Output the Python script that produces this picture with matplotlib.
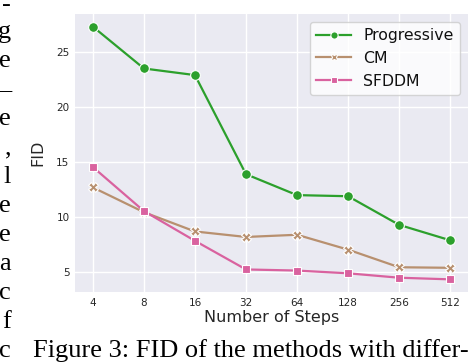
import matplotlib
matplotlib.use("Agg")
import matplotlib.pyplot as plt
import numpy as np

steps = ["4", "8", "16", "32", "64", "128", "256", "512"]
progressive = [27.3, 23.5, 22.9, 13.9, 12.0, 11.9, 9.3, 7.9]
cm = [12.7, 10.45, 8.7, 8.2, 8.4, 7.05, 5.45, 5.4]
sfddm = [14.55, 10.55, 7.85, 5.25, 5.15, 4.9, 4.5, 4.35]
series_names = ["Progressive", "CM", "SFDDM"]
y_ticks = [5, 10, 15, 20, 25]

colors = ["#2ca02c", "#b8906f", "#d9629f"]
markers = ["o", "X", "s"]
msizes = [7, 6.5, 5.5]

fig = plt.figure(figsize=(4.76, 3.64), dpi=100)
ax = fig.add_axes([75/476, 1-292/364, (468-75)/476, (292-14)/364])
ax.set_facecolor("#eaeaf2")
for s in ax.spines.values():
    s.set_visible(False)
ax.grid(True, color="white", linewidth=1.0)
ax.set_axisbelow(True)

x = np.arange(len(steps))
for name, vals, c, m, ms in zip(series_names, [progressive, cm, sfddm], colors, markers, msizes):
    ax.plot(x, vals, color=c, marker=m, markersize=ms, markeredgecolor="white",
            markeredgewidth=0.8, linewidth=1.6, label=name)

ax.set_xticks(x)
ax.set_xticklabels(steps)
ax.set_yticks(y_ticks)
ax.tick_params(axis="both", length=0, labelsize=7.5, pad=4, labelcolor="#262626")
ax.margins(x=0.05, y=0.05)
ax.set_xlabel("Number of Steps", fontsize=11.5, color="#262626", labelpad=2)
ax.set_ylabel("FID", fontsize=11.5, color="#262626", labelpad=8)

leg = ax.legend(loc="upper right", fontsize=11.3, frameon=True, fancybox=True,
                framealpha=0.8, edgecolor="#cccccc", borderpad=0.4, labelspacing=0.5,
                handlelength=2.2, handletextpad=0.8, markerscale=0.75)
for t in leg.get_texts():
    t.set_color("#111111")

# surrounding paper text (cropped column on the left and caption below)
left_chars = ["-", "g", "e", "–", "e", ",", "l", "e", "e", "a", "c", "f", "c"]
y_base = [11, 38, 67, 96, 125, 154, 183, 212, 241, 270, 299, 328, 357]
for ch, yb in zip(left_chars, y_base):
    fig.text(11/476, 1-yb/364, ch, ha="right", va="baseline",
             fontsize=19, family="Liberation Serif", color="black")
fig.text(33/476, 1-357/364, "Figure 3: FID of the methods with differ-", ha="left",
         va="baseline", fontsize=19, family="Liberation Serif", color="black")

fig.savefig("out.png", dpi=100)
